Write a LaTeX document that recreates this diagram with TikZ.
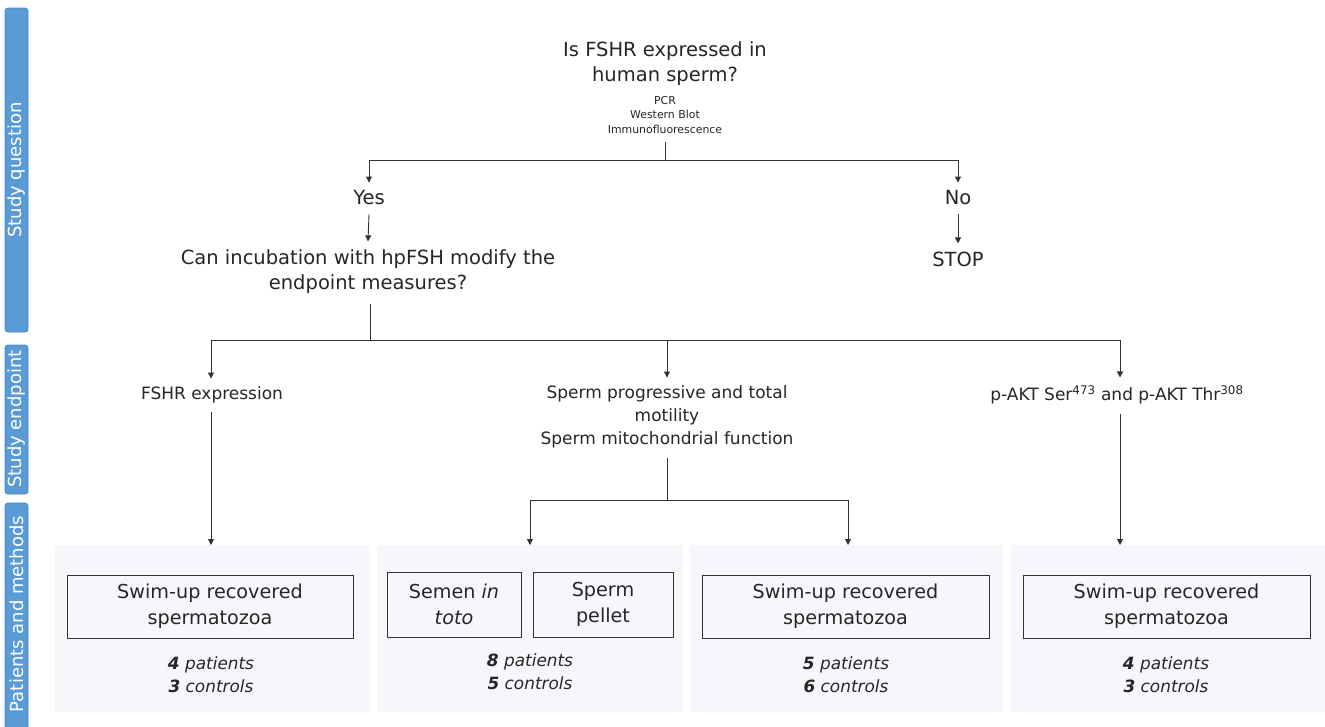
\documentclass[tikz,border=0pt]{standalone}
\usepackage{fontspec}
\setmainfont{DejaVu Sans}
\usetikzlibrary{arrows.meta}
\definecolor{side}{HTML}{5B9BD5}
\definecolor{sideedge}{HTML}{4A86C0}
\definecolor{panel}{HTML}{F6F7FB}
\definecolor{txt}{HTML}{262626}
\definecolor{ln}{HTML}{333333}
\begin{document}
\begin{tikzpicture}[x=1pt,y=-1pt,
  every node/.style={text=txt, inner sep=0pt, align=center},
  sidebar/.style={fill=side, draw=sideedge, rounded corners=3pt, line width=0.8pt},
  sidetext/.style={rotate=90, text=white, font=\fontsize{18}{20}\selectfont},
  big/.style={font=\fontsize{19.5}{25}\selectfont},
  mid/.style={font=\fontsize{17}{23}\selectfont},
  small/.style={font=\fontsize{10.9}{14.5}\selectfont},
  boxtxt/.style={font=\fontsize{19.2}{26}\selectfont},
  counts/.style={font=\fontsize{16.9}{23}\selectfont\itshape},
  panelbg/.style={fill=panel, draw=none},
  inbox/.style={draw=ln, line width=0.9pt, fill=panel},
  conn/.style={draw=ln, line width=0.9pt},
  arr/.style={conn, -{Triangle[length=6pt,width=6pt]}}
]
\useasboundingbox (0,0) rectangle (1325,726);
\fill[white] (0,0) rectangle (1325,726);

% sidebars
\draw[sidebar] (5,8) rectangle (28,332);
\node[sidetext] (sq) at (17,170) {Study question};
\draw[sidebar] (5,345) rectangle (28,494);
\node[sidetext] (se) at (17,419) {Study endpoint};
\draw[sidebar] (5,503) rectangle (28,740);
\node[sidetext] (pm) at (17,614) {Patients and methods};

% question
\node[big] (q) at (665,64) {Is FSHR expressed in\\human sperm?};
\node[small] (methods) at (665,115) {PCR\\Western Blot\\Immunofluorescence};
\coordinate (qj) at (665,160);
\node[big] (yes) at (369,198) {Yes};
\node[big] (no) at (958,198) {No};
\draw[conn] ([yshift=-8pt]methods.south) -- (qj);
\draw[arr] (qj) -| ([yshift=8pt]yes.north);
\draw[arr] (qj) -| ([yshift=8pt]no.north);

\node[big] (can) at (368,271.5) {Can incubation with hpFSH modify the\\endpoint measures?};
\node[big] (stop) at (958,259) {STOP};
\draw[arr] ([yshift=-9pt]yes.south) -- ([yshift=8pt]can.north);
\draw[arr] ([yshift=-9pt]no.south) -- ([yshift=8pt]stop.north);

% endpoints
\node[mid] (fshr) at (212,395) {FSHR expression};
\node[mid] (mot) at (667,417) {Sperm progressive and total\\motility\\Sperm mitochondrial function};
\node[mid] (akt) at (1117,395) {p-AKT Ser\textsuperscript{473} and p-AKT Thr\textsuperscript{308}};
\coordinate (cj) at (370,340);
\draw[conn] ([yshift=-10pt]can.south -| cj) -- (cj);
\draw[arr] (cj) -| ([yshift=8pt]fshr.north -| 211,0);
\draw[arr] (cj) -| ([yshift=8pt]mot.north);
\draw[arr] (cj) -| ([yshift=8pt]akt.north -| 1120,0);

% panels
\fill[panelbg] (55,545) rectangle (370,712);
\fill[panelbg] (377,545) rectangle (683,712);
\fill[panelbg] (690,545) rectangle (1003,712);
\fill[panelbg] (1011,545) rectangle (1325,712);

\node[inbox, boxtxt, minimum width=286pt, minimum height=63pt] (b1) at (210,606.5) {Swim-up recovered\\spermatozoa};
\node[inbox, boxtxt, minimum width=134pt, minimum height=65pt] (b2a) at (454,604.5) {Semen \textit{in}\\\textit{toto}};
\node[inbox, boxtxt, minimum width=140pt, minimum height=65pt] (b2b) at (603,604.5) {Sperm\\pellet};
\node[inbox, boxtxt, minimum width=287pt, minimum height=63pt] (b3) at (845.5,606.5) {Swim-up recovered\\spermatozoa};
\node[inbox, boxtxt, minimum width=287pt, minimum height=63pt] (b4) at (1166.5,606.5) {Swim-up recovered\\spermatozoa};

\node[counts] (c1) at (211,675) {\textbf{4} patients\\\textbf{3} controls};
\node[counts] (c2) at (530,672) {\textbf{8} patients\\\textbf{5} controls};
\node[counts] (c3) at (846,675) {\textbf{5} patients\\\textbf{6} controls};
\node[counts] (c4) at (1166,675) {\textbf{4} patients\\\textbf{3} controls};

\coordinate (p1) at (211,545);
\coordinate (p2) at (530,545);
\coordinate (p3) at (848,545);
\coordinate (p4) at (1120,545);
\draw[arr] ([yshift=-9pt]fshr.south -| p1) -- (p1);
\draw[arr] ([yshift=-9pt]akt.south -| p4) -- (p4);
\coordinate (mj) at (667,500);
\draw[conn] ([yshift=-10pt]mot.south) -- (mj);
\draw[arr] (mj) -| (p2);
\draw[arr] (mj) -| (p3);
\end{tikzpicture}
\end{document}
